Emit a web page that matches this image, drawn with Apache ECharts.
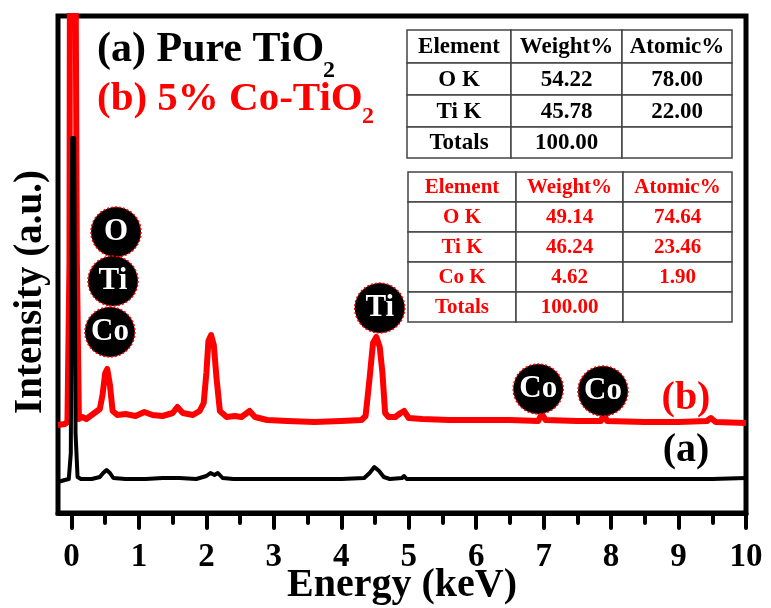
<!DOCTYPE html>
<html>
<head>
<meta charset="utf-8">
<script src="https://cdn.jsdelivr.net/npm/echarts@6/dist/echarts.min.js"></script>
<style>
  html, body { margin: 0; padding: 0; background: #fff; }
  #chart { width: 771px; height: 608px; }
</style>
</head>
<body>
<div id="chart"></div>
<script>
// energy axis
const energyTicks = [0, 1, 2, 3, 4, 5, 6, 7, 8, 9, 10];
const energyMinor = [0.5, 1.5, 2.5, 3.5, 4.5, 5.5, 6.5, 7.5, 8.5, 9.5];

// (a) pure TiO2 spectrum [keV, intensity]
const pureTiO2 = [
  [-0.2, 31], [-0.1, 33], [-0.04, 34], [-0.01, 60], [0.01, 375], [0.04, 375], [0.06, 80],
  [0.09, 36], [0.14, 34], [0.3, 34], [0.42, 36], [0.47, 40], [0.52, 43], [0.57, 40],
  [0.62, 35], [0.8, 34], [1.1, 34], [1.35, 35], [1.6, 35], [1.85, 34], [2.0, 37],
  [2.06, 40], [2.12, 38], [2.17, 40], [2.24, 35], [2.4, 34], [3.0, 34], [4.0, 34],
  [4.34, 35], [4.42, 40], [4.49, 46], [4.56, 42], [4.63, 36], [4.72, 34], [4.9, 35],
  [4.93, 37], [4.97, 34], [5.5, 34], [6.5, 34], [7.5, 34], [8.5, 34], [9.5, 34], [10, 35]
];

// (b) 5% Co-TiO2 spectrum [keV, intensity]
const coTiO2 = [
  [-0.2, 88], [-0.1, 89], [-0.06, 91], [-0.03, 250], [-0.02, 700], [0.05, 700], [0.08, 250],
  [0.11, 94], [0.16, 96], [0.22, 94], [0.3, 98], [0.36, 101], [0.42, 104], [0.46, 118],
  [0.5, 140], [0.53, 144], [0.57, 128], [0.61, 102], [0.68, 98], [0.8, 99], [0.95, 97],
  [1.08, 101], [1.2, 98], [1.35, 97], [1.5, 100], [1.57, 106], [1.65, 100], [1.8, 98],
  [1.9, 102], [1.96, 110], [2.0, 140], [2.03, 172], [2.07, 178], [2.11, 168], [2.15, 135],
  [2.2, 102], [2.3, 96], [2.42, 97], [2.52, 96], [2.64, 102], [2.72, 96], [2.9, 93],
  [3.2, 92], [3.6, 91], [4.0, 92], [4.3, 93], [4.36, 97], [4.42, 135], [4.47, 170],
  [4.52, 176], [4.57, 166], [4.61, 140], [4.65, 100], [4.7, 96], [4.8, 96], [4.88, 100],
  [4.93, 102], [5.0, 95], [5.2, 94], [5.6, 93], [6.0, 93], [6.5, 93], [6.92, 92],
  [6.97, 99], [7.03, 93], [7.5, 92], [7.85, 92], [7.89, 99], [7.94, 92], [8.5, 91],
  [9.0, 91], [9.42, 92], [9.48, 95], [9.55, 91], [10, 90]
];

// element markers over the peaks
const peakNames = ['O', 'Ti', 'Co', 'Ti', 'Co', 'Co'];
const peakEnergy = [0.66, 0.615, 0.57, 4.57, 6.92, 7.88];
const peakHeight = [281, 232, 181, 205, 124, 122];

// EDS quantification tables
const tableHeader = ['Element', 'Weight%', 'Atomic%'];
const tablePure = [['O K', '54.22', '78.00'], ['Ti K', '45.78', '22.00'], ['Totals', '100.00', '']];
const tableCo = [['O K', '49.14', '74.64'], ['Ti K', '46.24', '23.46'], ['Co K', '4.62', '1.90'], ['Totals', '100.00', '']];

const serif = '"Liberation Serif", "Times New Roman", serif';

function buildTable(rows, colX, rowY, color, size) {
  const els = [];
  const all = [tableHeader].concat(rows);
  all.forEach((row, r) => {
    row.forEach((txt, c) => {
      const x0 = colX[c], x1 = colX[c + 1], y0 = rowY[r], y1 = rowY[r + 1];
      els.push({
        type: 'rect',
        shape: { x: x0, y: y0, width: x1 - x0, height: y1 - y0 },
        style: { fill: '#fff', stroke: '#444', lineWidth: 1.5 },
        z: 10
      });
      els.push({
        type: 'text',
        x: (x0 + x1) / 2,
        y: (y0 + y1) / 2 + 1,
        style: {
          text: txt, fill: color, font: 'bold ' + size + 'px ' + serif,
          align: 'center', verticalAlign: 'middle'
        },
        z: 11
      });
    });
  });
  return els;
}

function label(txt, x, y, color, size, align) {
  return {
    type: 'text', x: x, y: y, z: 12,
    style: { text: txt, fill: color, font: 'bold ' + size + 'px ' + serif, align: align || 'left', verticalAlign: 'middle' }
  };
}

const chart = echarts.init(document.getElementById('chart'), null, { renderer: 'canvas' });

const graphics = []
  .concat(buildTable(tablePure, [407, 511, 622, 732], [30, 63, 95, 127, 158], '#000', 23))
  .concat(buildTable(tableCo, [408, 516, 623, 732], [172, 202, 232, 262, 292, 322], '#ff0000', 21))
  .concat([
    label('(a) Pure TiO', 97, 50, '#000', 42),
    label('2', 329, 71, '#000', 24, 'center'),
    label('(b) 5% Co-TiO', 97, 99, '#ff0000', 41),
    label('2', 368, 117, '#ff0000', 24, 'center'),
    label('(b)', 686, 399, '#ff0000', 40, 'center'),
    label('(a)', 686, 451, '#000', 40, 'center'),
    {
      type: 'text', x: 31, y: 292, rotation: Math.PI / 2, z: 12,
      style: { text: 'Intensity (a.u.)', fill: '#000', font: 'bold 39px ' + serif, align: 'center', verticalAlign: 'middle' }
    }
  ]);

const option = {
  animation: false,
  backgroundColor: '#fff',
  grid: {
    left: 58, right: 25, top: 16, bottom: 95,
    outerBoundsMode: 'none',
    show: true, borderColor: '#000', borderWidth: 5, backgroundColor: 'transparent'
  },
  xAxis: [
    {
      type: 'value', min: -0.2, max: 10,
      name: 'Energy (keV)', nameLocation: 'middle', nameGap: 53, nameMoveOverlap: false,
      nameTextStyle: { fontFamily: serif, fontWeight: 'bold', fontSize: 40, color: '#000' },
      axisLine: { lineStyle: { color: '#000', width: 5 } },
      axisTick: { customValues: energyTicks, length: 15, lineStyle: { color: '#000', width: 4, cap: 'round' } },
      axisLabel: {
        customValues: energyTicks, margin: 28,
        fontFamily: serif, fontWeight: 'bold', fontSize: 33, color: '#000'
      },
      splitLine: { show: false }
    },
    {
      type: 'value', min: -0.2, max: 10, position: 'bottom',
      axisLine: { show: false },
      axisTick: { customValues: energyMinor, length: 10, lineStyle: { color: '#000', width: 4, cap: 'round' } },
      axisLabel: { show: false },
      splitLine: { show: false }
    }
  ],
  yAxis: {
    type: 'value', min: 0, max: 497,
    axisLine: { show: false }, axisTick: { show: false },
    axisLabel: { show: false }, splitLine: { show: false }
  },
  series: [
    {
      name: '5% Co-TiO2', type: 'line', data: coTiO2, xAxisIndex: 0,
      showSymbol: false, symbol: 'none', clip: true,
      lineStyle: { color: '#ff0000', width: 6, join: 'round' }, z: 3
    },
    {
      name: 'Pure TiO2', type: 'line', data: pureTiO2, xAxisIndex: 0,
      showSymbol: false, symbol: 'none', clip: true,
      lineStyle: { color: '#000', width: 4, join: 'round' }, z: 4
    },
    {
      name: 'peaks', type: 'scatter', xAxisIndex: 0, z: 6,
      symbol: 'circle', symbolSize: 50,
      data: peakNames.map((n, i) => ({ name: n, value: [peakEnergy[i], peakHeight[i]] })),
      itemStyle: { color: '#000', borderColor: '#ff0000', borderWidth: 1.5, borderType: [2, 2], opacity: 1 },
      label: {
        show: true, position: 'inside', formatter: '{b}',
        fontFamily: serif, fontWeight: 'bold', fontSize: 31, color: '#fff'
      },
      emphasis: { disabled: true }
    }
  ],
  graphic: graphics
};

chart.setOption(option);
</script>
</body>
</html>
